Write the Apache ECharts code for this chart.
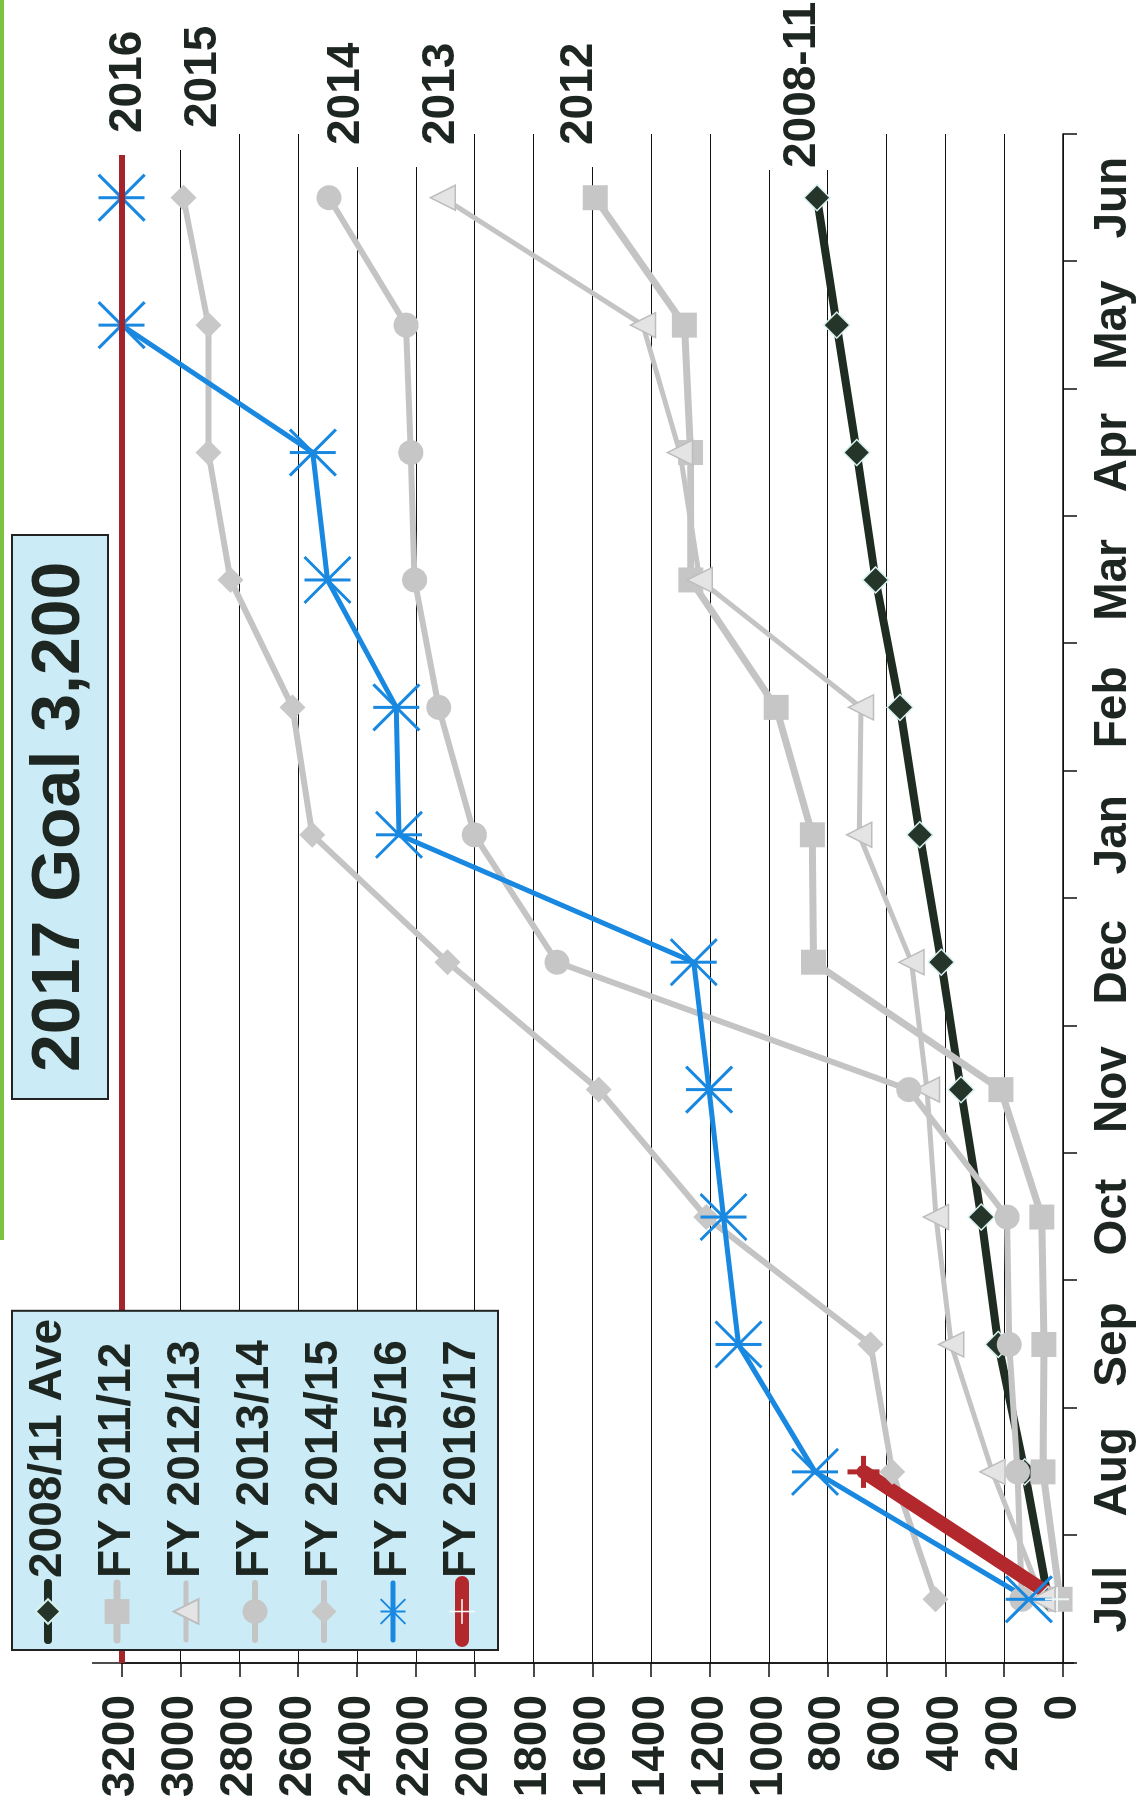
<!DOCTYPE html>
<html>
<head>
<meta charset="utf-8">
<script src="https://cdn.jsdelivr.net/npm/echarts@6/dist/echarts.min.js"></script>
<style>
html,body{margin:0;padding:0;width:1144px;height:1818px;overflow:hidden;background:#fff;}
#wrap{position:absolute;left:0;top:0;width:1818px;height:1144px;transform-origin:0 0;transform:translate(0px,1818px) rotate(-90deg);}
#strip{position:absolute;left:0;top:0;width:4px;height:1240px;background:#7cc243;}
</style>
</head>
<body>
<div id="wrap"></div>
<div id="strip"></div>
<script>
// ---- data ----
const months = ['Jul','Aug','Sep','Oct','Nov','Dec','Jan','Feb','Mar','Apr','May','Jun'];
const ave0811 = [50,130,220,278,347,414,487,554,637,701,769,836];
const fy1112 = [10,68,65,72,211,848,852,975,1265,1266,1287,1590];
const fy1213 = [70,240,380,432,462,515,693,687,1235,1302,1428,2108];
const fy1314 = [140,155,183,190,524,1720,2001,2122,2204,2217,2233,2495];
const fy1415 = [433,580,654,1213,1578,2092,2552,2619,2830,2905,2905,2990];
const fy1516 = [116,843,1103,1154,1203,1255,2257,2266,2500,2550,3200,3200];
const fy1617 = [20,678];
const goalValue = 3200;
const valueMin = 0, valueMax = 3200, valueStep = 200;
const seriesNames = ['2008/11 Ave','FY 2011/12','FY 2012/13','FY 2013/14','FY 2014/15','FY 2015/16','FY 2016/17'];
const endLabels = ['2016','2015','2014','2013','2012','2008-11'];
const titleText = '2017 Goal 3,200';

// ---- styles ----
const FONT = "'Liberation Sans', Arial, sans-serif";
const TXT = '#1e2621';
const DARK = '#1f2c22';
const GRAY = '#c4c4c4';
const BLUE = '#1888e0';
const RED = '#b3282c';
const GOALRED = '#a3242a';
const BOXBG = '#cbecf6';

const asterisk = 'path://M0,0L46,46M46,0L0,46M23,0L23,46';
const plus = 'path://M0,16L32,16M16,0L16,32';

const chart = echarts.init(document.getElementById('wrap'), null, {renderer:'canvas'});

function mk(name, data, o) {
  return Object.assign({
    name: name, type: 'line', data: data, animation: false,
    emphasis: {disabled: true}, silent: true
  }, o);
}

const labelPos = [
  {x:1685, y:128, pad:22}, {x:1690, y:203, pad:22}, {x:1673, y:346, pad:22},
  {x:1673, y:441, pad:22}, {x:1673, y:579, pad:22}, {x:1650, y:802, pad:2}
];

const legendLine = [
  {color: DARK, width: 8}, {color: GRAY, width: 7}, {color: GRAY, width: 5},
  {color: GRAY, width: 6}, {color: GRAY, width: 6}, {color: BLUE, width: 5}, {color: RED, width: 14}
];

const option = {
  animation: false,
  backgroundColor: '#fff',
  textStyle: {fontFamily: FONT},
  title: {
    text: titleText, z: 20,
    left: 719, top: 12,
    backgroundColor: BOXBG, borderColor: '#222', borderWidth: 2,
    padding: [10, 27],
    textStyle: {fontSize: 68, fontWeight: 'bold', color: TXT, fontFamily: FONT, lineHeight: 76}
  },
  legend: {
    orient: 'vertical', left: 168, top: 12, z: 20,
    backgroundColor: BOXBG, borderColor: '#222', borderWidth: 2,
    padding: [11, 8, 11, 3],
    itemGap: 19, itemWidth: 57, itemHeight: 31,
    textStyle: {fontSize: 46, fontWeight: 'bold', color: TXT, fontFamily: FONT, lineHeight: 50},
    selectedMode: false,
    data: seriesNames.map((n, i) => {
      const d = {name: n, lineStyle: {color: legendLine[i].color, width: legendLine[i].width, cap: 'round'}};
      if (i === 6) d.itemStyle = {borderColor: '#ffffff', borderWidth: 1.5};
      return d;
    })
  },
  grid: {left: 155, right: 134, top: 121.6, bottom: 81, containLabel: false},
  xAxis: {
    type: 'category', data: months, boundaryGap: true,
    axisLine: {show: true, lineStyle: {color: '#111', width: 1.5}},
    axisTick: {show: true, interval: 0, length: 14, lineStyle: {color: '#111', width: 1.5}},
    axisLabel: {fontSize: 46, fontWeight: 'bold', color: TXT, fontFamily: FONT, margin: 27, interval: 0},
    splitLine: {show: false}
  },
  yAxis: {
    type: 'value', min: valueMin, max: valueMax, interval: valueStep,
    axisLine: {show: true, lineStyle: {color: '#111', width: 1.5}},
    axisTick: {show: true, length: 14, lineStyle: {color: '#111', width: 1.5}},
    axisLabel: {fontSize: 46, fontWeight: 'bold', color: TXT, fontFamily: FONT, margin: 32,
      formatter: v => String(v)},
    splitLine: {show: true, lineStyle: {color: '#111', width: 1.2}}
  },
  series: [
    mk(seriesNames[0], ave0811, {
      symbol: 'diamond', symbolSize: 26,
      lineStyle: {color: DARK, width: 8, cap: 'round', join: 'round'},
      itemStyle: {color: '#25352a', borderColor: '#d6f1ef', borderWidth: 1.5}
    }),
    mk(seriesNames[1], fy1112, {
      symbol: 'rect', symbolSize: 25,
      lineStyle: {color: GRAY, width: 7, cap: 'round', join: 'round'},
      itemStyle: {color: '#c6c6c6', borderColor: '#c6c6c6', borderWidth: 0}
    }),
    mk(seriesNames[2], fy1213, {
      symbol: 'triangle', symbolSize: 25,
      lineStyle: {color: GRAY, width: 5, cap: 'round', join: 'round'},
      itemStyle: {color: '#e4e4e4', borderColor: '#bdbdbd', borderWidth: 1.5}
    }),
    mk(seriesNames[3], fy1314, {
      symbol: 'circle', symbolSize: 25,
      lineStyle: {color: GRAY, width: 6, cap: 'round', join: 'round'},
      itemStyle: {color: '#c6c6c6', borderWidth: 0}
    }),
    mk(seriesNames[4], fy1415, {
      symbol: 'diamond', symbolSize: 26,
      lineStyle: {color: GRAY, width: 6, cap: 'round', join: 'round'},
      itemStyle: {color: '#c8c8c8', borderWidth: 0}
    }),
    mk(seriesNames[5], fy1516, {
      symbol: asterisk, symbolSize: 46, clip: false,
      lineStyle: {color: BLUE, width: 5, cap: 'round', join: 'round'},
      itemStyle: {color: 'rgba(0,0,0,0)', borderColor: BLUE, borderWidth: 3}
    }),
    mk(seriesNames[6], fy1617.map((v, i) => i === 0 ? {value: v, symbolSize: 24, itemStyle: {borderColor: '#eef6f6', borderWidth: 2}} : v), {
      symbol: plus, symbolSize: 32,
      lineStyle: {color: RED, width: 14, cap: 'round', join: 'round'},
      itemStyle: {color: 'rgba(0,0,0,0)', borderColor: RED, borderWidth: 5},
      markLine: {
        silent: true, symbol: ['none', 'none'], animation: false,
        label: {show: false},
        lineStyle: {color: GOALRED, width: 6, type: 'solid'},
        emphasis: {disabled: true},
        data: [{yAxis: goalValue}]
      }
    })
  ],
  graphic: [
    {type: 'line', silent: true, z: 5, shape: {x1: 155, y1: 92, x2: 155, y2: 1074}, style: {stroke: '#111', lineWidth: 1.5}}
  ].concat(endLabels.map((t, i) => ({
    type: 'text', silent: true, z: 50,
    x: labelPos[i].x - labelPos[i].pad, y: labelPos[i].y,
    style: {
      text: t, fill: TXT, font: "bold 46px 'Liberation Sans', Arial, sans-serif",
      verticalAlign: 'middle', align: 'left',
      backgroundColor: '#ffffff', padding: [10, 4, 10, labelPos[i].pad]
    }
  })))
};
chart.setOption(option);
</script>
</body>
</html>
